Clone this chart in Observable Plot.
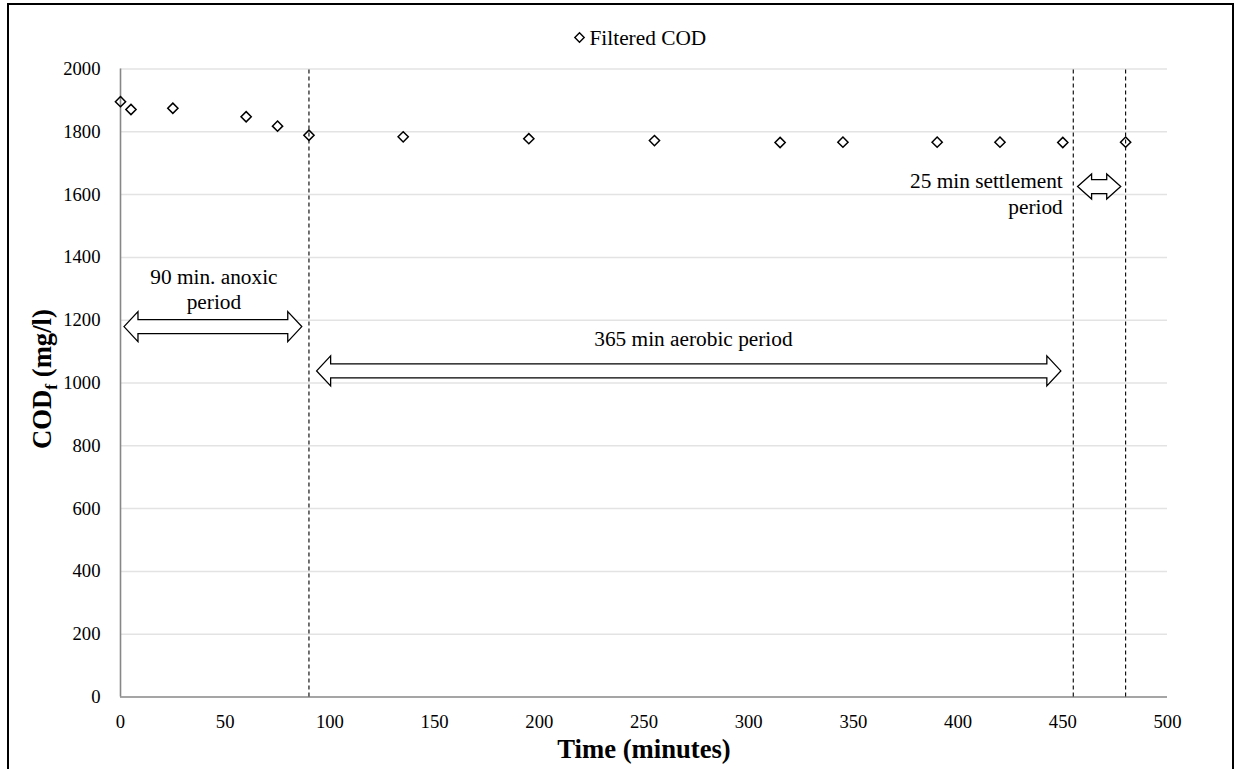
<!DOCTYPE html>
<html><head><meta charset="utf-8">
<script src="https://cdn.jsdelivr.net/npm/d3@7"></script>
<script src="https://cdn.jsdelivr.net/npm/@observablehq/plot@0.6"></script>
<style>
html,body{margin:0;padding:0;background:#fff;overflow:hidden;width:1241px;height:769px}
#chart{position:absolute;left:0;top:0}
#chart svg, #chart svg text { font-family: "Liberation Serif", "Times New Roman", serif !important; }
#frame{position:absolute;left:7px;top:3px;width:1227px;height:800px;border:2px solid #000;box-sizing:border-box;pointer-events:none}
</style></head><body>
<div id="chart"></div><div id="frame"></div>
<script>
// ---- data ----
const timeMin = [0, 5, 25, 60, 75, 90, 135, 195, 255, 315, 345, 390, 420, 450, 480];
const filteredCOD = [1896, 1871, 1875, 1848, 1818, 1789, 1784, 1778, 1772, 1766, 1767, 1767, 1767, 1766, 1767];
const xTicks = [0, 50, 100, 150, 200, 250, 300, 350, 400, 450, 500];
const yTicks = [0, 200, 400, 600, 800, 1000, 1200, 1400, 1600, 1800, 2000];
const phaseBoundaries = [90, 455, 480];
const arrowStart = [1.9, 93.9, 457.3];
const arrowEnd = [86.8, 449.3, 477.9];
const arrowLevel = [1178, 1037, 1624];
const arrowHead = [15, 15, 12.5];
const labelTexts = ["90 min. anoxic\nperiod", "365 min aerobic period", "25 min settlement\nperiod"];
const labelX = [44.6, 273.6, 450];
const labelY = [1302, 1143, 1605];
const labelAnchor = ["middle", "middle", "end"];
const legendLabel = "Filtered COD";
const xTitle = "Time (minutes)";
const yTitleMain = "COD", yTitleSub = "f", yTitleUnit = " (mg/l)";

const points = timeMin.map((t, i) => ({t, cod: filteredCOD[i]}));
const arrows = arrowStart.map((s, i) => ({x1: s, x2: arrowEnd[i], y: arrowLevel[i], hh: arrowHead[i]}));
const labels = labelTexts.map((s, i) => ({text: s, x: labelX[i], y: labelY[i], anchor: labelAnchor[i]}));

const W = 1241, H = 769;
const mL = 120, mR = 74, mT = 68.5, mB = 72.5;
const FONT = "Liberation Serif";
const FS_TICK = 18.67, FS_NOTE = 21.33, FS_TITLE = 26.67;

function arrowMark(data) {
  return (index, scales) => {
    const g = d3.create("svg:g");
    for (const a of data) {
      const x1 = scales.x(a.x1), x2 = scales.x(a.x2), y = scales.y(a.y);
      const hl = 14, hh = a.hh, sh = 7;
      const pts = [[x1, y], [x1 + hl, y - hh], [x1 + hl, y - sh], [x2 - hl, y - sh], [x2 - hl, y - hh],
                   [x2, y], [x2 - hl, y + hh], [x2 - hl, y + sh], [x1 + hl, y + sh], [x1 + hl, y + hh]];
      g.append("polygon").attr("points", pts.map(p => p.join(",")).join(" "))
        .attr("fill", "white").attr("stroke", "black").attr("stroke-width", 1.3).attr("stroke-linejoin", "miter");
    }
    return g.node();
  };
}

function yTitleMark() {
  return (index, scales, values, dims) => {
    const cy = (dims.marginTop + dims.height - dims.marginBottom) / 2 - 3.5;
    const t = d3.create("svg:text")
      .attr("transform", `translate(${dims.marginLeft - 69},${cy}) rotate(-90)`)
      .attr("text-anchor", "middle").attr("font-weight", "bold").attr("font-size", FS_TITLE)
      .attr("fill", "#000").attr("font-family", FONT);
    t.append("tspan").text(yTitleMain);
    t.append("tspan").attr("dy", 6).attr("font-size", 17.3).text(yTitleSub);
    t.append("tspan").attr("dy", -6).text(yTitleUnit);
    return t.node();
  };
}

const chart = Plot.plot({
  width: W, height: H,
  marginLeft: mL, marginRight: mR, marginTop: mT, marginBottom: mB,
  style: {fontFamily: FONT, fontSize: FS_TICK + "px", color: "#000", background: "transparent", overflow: "visible"},
  x: {domain: [0, 500]},
  y: {domain: [0, 2000]},
  marks: [
    Plot.gridY(yTicks.slice(1), {stroke: "#e3e3e3", strokeOpacity: 1, strokeWidth: 1.5}),
    Plot.ruleX([0], {y1: 0, y2: 2000, stroke: "#878787", strokeWidth: 1.6}),
    Plot.ruleY([0], {stroke: "#878787", strokeWidth: 1.6}),
    Plot.axisX(xTicks, {tickSize: 0, tickPadding: 18, fontSize: FS_TICK, fontFamily: FONT, tickFormat: d => String(d), label: null}),
    Plot.axisY(yTicks, {tickSize: 0, tickPadding: 20, fontSize: FS_TICK, fontFamily: FONT, tickFormat: d => String(d), label: null}),
    Plot.ruleX(phaseBoundaries, {y1: 0, y2: 2000, stroke: "#000", strokeWidth: 1.1, strokeDasharray: "4,3"}),
    Plot.dot(points, {x: "t", y: "cod", symbol: "diamond2", r: 4.6, stroke: "#000", strokeWidth: 1.5, fill: "none"}),
    arrowMark(arrows),
    Plot.text(labels.filter(d => d.anchor === "middle"), {x: "x", y: "y", text: "text", textAnchor: "middle", fontSize: FS_NOTE, fontFamily: FONT, lineHeight: 1.19, fill: "#000"}),
    Plot.text(labels.filter(d => d.anchor === "end"), {x: "x", y: "y", text: "text", textAnchor: "end", fontSize: FS_NOTE, fontFamily: FONT, lineHeight: 1.19, fill: "#000"}),
    // legend
    Plot.dot([legendLabel], {frameAnchor: "top", dx: 579 - 643.5, dy: 37 - mT, symbol: "diamond2", r: 4.2, stroke: "#000", strokeWidth: 1.4, fill: "none"}),
    Plot.text([legendLabel], {frameAnchor: "top", text: d => d, textAnchor: "start", lineAnchor: "middle", dx: 589 - 643.5, dy: 38 - mT, fontSize: FS_NOTE, fontFamily: FONT, fill: "#000"}),
    // x title
    Plot.text([xTitle], {frameAnchor: "bottom", text: d => d, lineAnchor: "middle", dy: 52, fontSize: FS_TITLE, fontFamily: FONT, fontWeight: "bold", fill: "#000"}),
    yTitleMark()
  ]
});
document.getElementById("chart").appendChild(chart);
</script>
</body></html>
